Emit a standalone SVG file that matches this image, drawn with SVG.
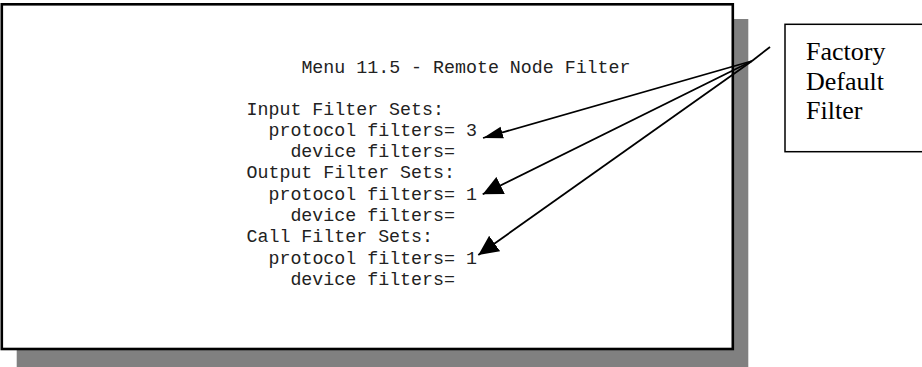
<svg xmlns="http://www.w3.org/2000/svg" width="922" height="367" viewBox="0 0 922 367">
<defs>
<style>
.mono{font-family:"Liberation Mono","Courier New",monospace;font-size:18.3px;fill:#222}
.serif{font-family:"Liberation Serif","Times New Roman",serif;font-size:26px;fill:#000}
.conn{stroke:#000;stroke-width:1.8;fill:none}
</style>
<marker id="ahWide" markerUnits="userSpaceOnUse" markerWidth="21" markerHeight="20" viewBox="0 0 21 20" refX="20" refY="10" orient="auto">
<path d="M0,0.5 L20,10 L0,19.5 z" fill="#000"/>
</marker>
<marker id="ahNarrow" markerUnits="userSpaceOnUse" markerWidth="21" markerHeight="14" viewBox="0 0 21 14" refX="20" refY="7" orient="auto">
<path d="M0,1 L20,7 L0,13 z" fill="#000"/>
</marker>
</defs>
<rect x="0" y="0" width="922" height="367" fill="#fff"/>
<g id="screen">
<rect x="16.7" y="19" width="731.6" height="360" fill="#808080"/>
<rect x="1.8" y="4.3" width="731" height="344.7" fill="#fff" stroke="#000" stroke-width="2.6"/>
<text class="mono" x="301.4" y="72.5">Menu 11.5 - Remote Node Filter</text>
<text class="mono" x="246.5" y="114.5">Input Filter Sets:</text>
<text class="mono" x="268.5" y="135.8">protocol filters= 3</text>
<text class="mono" x="290.4" y="157.1">device filters=</text>
<text class="mono" x="246.5" y="178.4">Output Filter Sets:</text>
<text class="mono" x="268.5" y="199.7">protocol filters= 1</text>
<text class="mono" x="290.4" y="221">device filters=</text>
<text class="mono" x="246.5" y="242.3">Call Filter Sets:</text>
<text class="mono" x="268.5" y="263.6">protocol filters= 1</text>
<text class="mono" x="290.4" y="284.9">device filters=</text>
</g>
<g id="callout">
<rect x="785" y="24.3" width="150" height="127.4" fill="#fff" stroke="#000" stroke-width="1.5"/>
<text class="serif" x="806" y="60">Factory</text>
<text class="serif" x="806" y="89.5">Default</text>
<text class="serif" x="806" y="119">Filter</text>
</g>
<g id="connectors">
<line class="conn" x1="770" y1="47" x2="752" y2="61"/>
<line class="conn" x1="752" y1="61" x2="483" y2="138" marker-end="url(#ahNarrow)"/>
<line class="conn" x1="752" y1="61" x2="482.7" y2="194.3" marker-end="url(#ahWide)"/>
<line class="conn" x1="752" y1="61" x2="478.3" y2="255" marker-end="url(#ahWide)"/>
</g>
</svg>
